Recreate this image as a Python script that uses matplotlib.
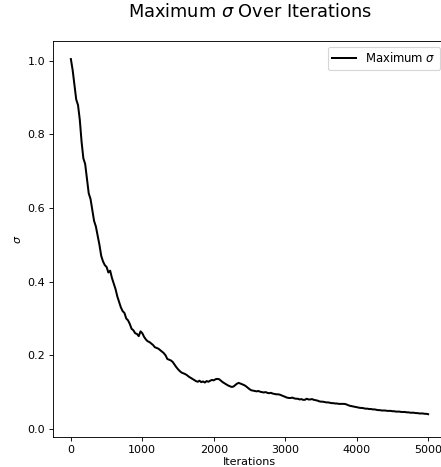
import matplotlib
matplotlib.use("Agg")
import matplotlib.pyplot as plt

iterations = list(range(0, 5001, 25))
max_sigma = [
    1.005, 0.975, 0.935, 0.895, 0.88, 0.84, 0.78, 0.735,
    0.72, 0.68, 0.64, 0.625, 0.595, 0.565, 0.55, 0.525,
    0.50, 0.47, 0.455, 0.445, 0.44, 0.425, 0.43, 0.41,
    0.395, 0.38, 0.36, 0.345, 0.33, 0.32, 0.315, 0.30,
    0.295, 0.285, 0.272, 0.268, 0.26, 0.258, 0.252, 0.265,
    0.26, 0.25, 0.243, 0.238, 0.236, 0.232, 0.228, 0.222,
    0.22, 0.218, 0.214, 0.21, 0.206, 0.2, 0.19, 0.188,
    0.186, 0.182, 0.175, 0.168, 0.162, 0.157, 0.153, 0.151,
    0.149, 0.146, 0.142, 0.139, 0.136, 0.133, 0.13, 0.128,
    0.131, 0.127, 0.129, 0.126, 0.13, 0.128, 0.131, 0.133,
    0.132, 0.135, 0.136, 0.135, 0.131, 0.127, 0.124, 0.121,
    0.118, 0.116, 0.114, 0.115, 0.119, 0.123, 0.125, 0.123,
    0.121, 0.119, 0.116, 0.112, 0.108, 0.105, 0.104, 0.103,
    0.102, 0.103, 0.101, 0.1, 0.099, 0.1, 0.098, 0.097,
    0.098, 0.096, 0.095, 0.094, 0.094, 0.093, 0.091, 0.089,
    0.087, 0.085, 0.084, 0.084, 0.085, 0.083, 0.082, 0.082,
    0.08, 0.081, 0.079, 0.079, 0.082, 0.08, 0.08, 0.081,
    0.079, 0.078, 0.077, 0.075, 0.074, 0.074, 0.073, 0.072,
    0.072, 0.071, 0.07, 0.07, 0.069, 0.069, 0.068, 0.068,
    0.068, 0.068, 0.067, 0.065, 0.063, 0.062, 0.061, 0.06,
    0.059, 0.058, 0.057, 0.057, 0.056, 0.055, 0.055, 0.054,
    0.054, 0.053, 0.053, 0.052, 0.051, 0.051, 0.05, 0.05,
    0.05, 0.049, 0.049, 0.049, 0.048, 0.048, 0.047, 0.047,
    0.047, 0.046, 0.046, 0.046, 0.045, 0.045, 0.044, 0.044,
    0.044, 0.043, 0.043, 0.042, 0.042, 0.042, 0.041, 0.041,
    0.04,
]
x_ticks = [0, 1000, 2000, 3000, 4000, 5000]
y_ticks = [0.0, 0.2, 0.4, 0.6, 0.8, 1.0]

W, H = 441, 467
DPI = 80
fig = plt.figure(figsize=(W / DPI, H / DPI), dpi=DPI)
ax = fig.add_axes([53 / W, 1 - 437 / H, (446 - 53) / W, (437 - 41) / H])
ax.plot(iterations, max_sigma, color="black", linewidth=1.8, label=r"Maximum $\sigma$")
ax.set_xlim(-250, 5250)
ax.set_ylim(-0.022, 1.054)
ax.set_xticks(x_ticks)
ax.set_yticks(y_ticks)
ax.set_xlabel("Iterations", labelpad=2)
ax.set_ylabel(r"$\sigma$")
ax.legend(loc="upper right", fontsize=10.5)
fig.text((53 + 446) / 2 / W, 1 - 12 / H, r"Maximum $\sigma$ Over Iterations",
         fontsize=16, ha="center", va="center")
fig.savefig("out.png", dpi=DPI)
